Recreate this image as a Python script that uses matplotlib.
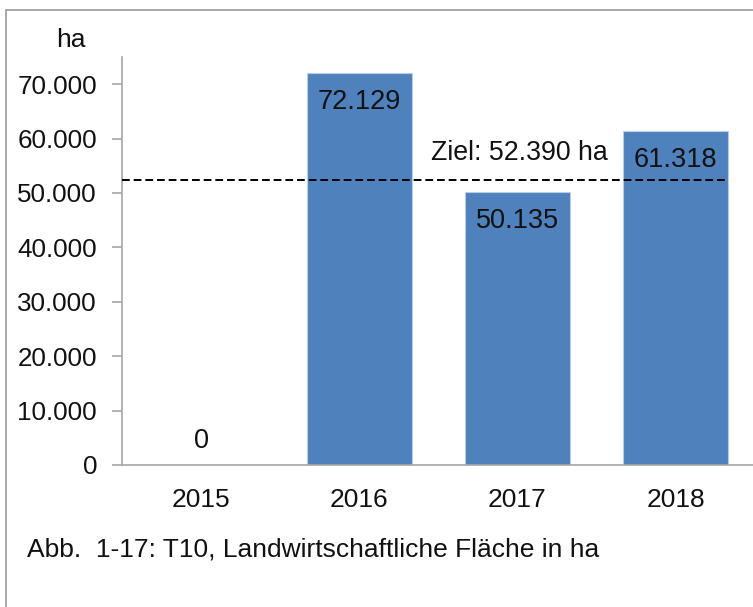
import matplotlib.pyplot as plt
from matplotlib.patches import Rectangle

years = ["2015", "2016", "2017", "2018"]
flaeche = [0, 72129, 50135, 61318]
ziel = 52390
y_ticks = [0, 10000, 20000, 30000, 40000, 50000, 60000, 70000]


def fmt(v):
    return f"{v:,}".replace(",", ".")


plt.rcParams["font.family"] = ["Liberation Sans", "DejaVu Sans"]

fig = plt.figure(figsize=(7.53, 6.07), dpi=100)
ax = fig.add_axes([122 / 753, 142 / 607, 632.5 / 753, 408 / 607])

x = list(range(len(years)))
width = 0.662
bars = ax.bar(x, flaeche, width=width, color="#4F81BD", edgecolor="#B9CDE5", linewidth=0.8, zorder=2)

for xi, v in zip(x, flaeche):
    if v > 0:
        ax.annotate(fmt(v), (xi, v), xytext=(0, -29), textcoords="offset pixels",
                    ha="center", va="center", fontsize=19.5, color="#111111", zorder=4)
    else:
        ax.annotate(fmt(v), (xi, v), xytext=(0, 24), textcoords="offset pixels",
                    ha="center", va="center", fontsize=19.5, color="#111111", zorder=4)

# Ziel-Linie
ax.hlines(ziel, -0.5, x[-1] + width / 2, colors="black", linestyles=(0, (4, 2)), linewidth=1.4, zorder=3)
ax.text(1.456, 57350, f"Ziel: {fmt(ziel)} ha", ha="left", va="center", fontsize=19.3, color="#111111")

ax.set_xlim(-0.5, 3.5)
ax.set_ylim(0, 75000)
ax.set_yticks(y_ticks)
ax.set_yticklabels([fmt(t) for t in y_ticks], fontsize=18.7)
ax.set_xticks(x)
ax.set_xticklabels(years, fontsize=19)

for side in ["top", "right"]:
    ax.spines[side].set_visible(False)
for side in ["left", "bottom"]:
    ax.spines[side].set_color("#A6A6A6")
    ax.spines[side].set_linewidth(1.2)
ax.tick_params(axis="y", length=7, width=1.2, color="#A6A6A6", pad=11, labelcolor="#111111")
ax.tick_params(axis="x", length=0, pad=16.5, labelcolor="#111111")

fig.text(71 / 753, 1 - 40 / 607, "ha", ha="center", va="center", fontsize=19, color="#111111")
fig.text(27 / 753, 1 - 550 / 607, "Abb.  1-17: T10, Landwirtschaftliche Fläche in ha",
         ha="left", va="center", fontsize=19, color="#111111")

# Rahmen
fig.patches.append(Rectangle((5.5 / 753, -0.1), 1.2, 1.1 - 9.5 / 607, transform=fig.transFigure,
                             fill=False, edgecolor="#A0A0A0", linewidth=1.3))

fig.savefig("out.png", dpi=100, facecolor="white")
